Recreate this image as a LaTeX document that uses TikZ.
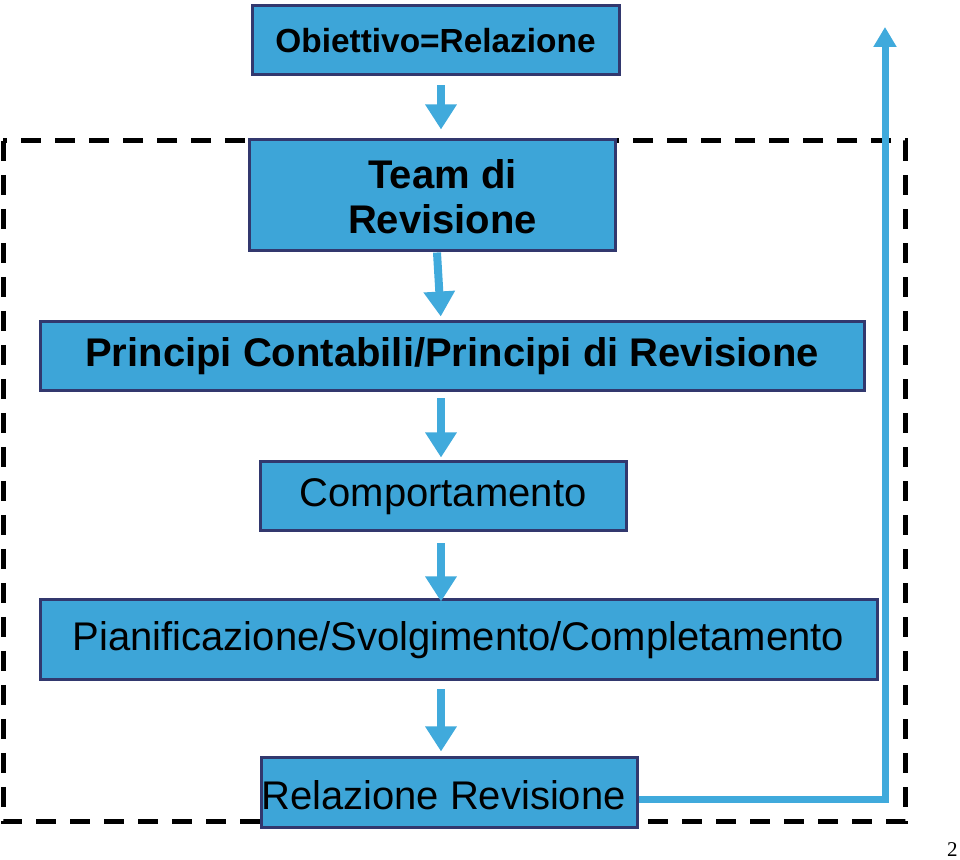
\documentclass[tikz,border=0pt]{standalone}
\usepackage{fontspec}
\setmainfont{Liberation Sans}
\usetikzlibrary{arrows.meta}
\definecolor{boxfill}{RGB}{61,165,216}
\definecolor{boxline}{RGB}{50,56,110}
\definecolor{flowblue}{RGB}{64,170,220}
\tikzset{
  box/.style={draw=boxline, fill=boxfill, line width=1.5pt, inner sep=0pt, align=center,
    font=\fontsize{20}{22.5}\selectfont},
  flow/.style={draw=flowblue, line width=4pt, -{Triangle[width=15pt,length=12.5pt]}}
}
\begin{document}
\begin{tikzpicture}[x=0.5pt, y=-0.5pt]
        \useasboundingbox (0,0) rectangle (960,860);

        \draw[black, line width=2.5pt, dash pattern=on 10pt off 7pt] (3,141) rectangle (905,822);

        \node[box, minimum width=183.5pt, minimum height=34.5pt, font=\fontsize{16.7}{20}\selectfont\bfseries] (obiettivo) at (435.5,40.5) {Obiettivo=Relazione};
        \node[box, minimum width=183pt, minimum height=55.5pt] (team) at (432,195.5) {};
        \node[inner sep=0pt, align=center, font=\fontsize{20}{22.5}\selectfont\bfseries] (teamtesto) at (442.5,197) {Team di\\Revisione};
        \node[box, minimum width=412pt, minimum height=34.5pt, font=\fontsize{20}{22.5}\selectfont\bfseries] (principi) at (452,356.5) {Principi Contabili/Principi di Revisione};
        \node[box, minimum width=183pt, minimum height=34.5pt] (comportamento) at (443,496.5) {Comportamento};
        \node[box, minimum width=418.5pt, minimum height=40pt] (pianificazione) at (458.5,640) {Pianificazione/Svolgimento/Completamento};
        \node[box, minimum width=188pt, minimum height=35pt] (relazione) at (449,793) {};
        \node[inner sep=0pt, font=\fontsize{20}{22.5}\selectfont] (relazionetesto) at (443.5,795) {Relazione Revisione};

        \coordinate (axis) at (441,0);
        \coordinate (ritorno) at (885,27);
        \node[anchor=south east, inner sep=0pt, font=\fontspec{Liberation Serif}\fontsize{10.5}{11}\selectfont] (pagina) at (958,857) {2};

        \path[flow, shorten <=4.5pt, shorten >=4.5pt] (obiettivo.south -| axis) -- (team.north -| axis);
        \path[flow, shorten >=2pt] (team.south -| 437,0) -- (principi.north -| axis);
        \path[flow, shorten <=3pt, shorten >=1.5pt] (principi.south -| axis) -- (comportamento.north -| axis);
        \path[flow, shorten <=5.5pt, shorten >=-1.5pt] (comportamento.south -| axis) -- (pianificazione.north -| axis);
        \path[flow, shorten <=4pt, shorten >=2.5pt] (pianificazione.south -| axis) -- (relazione.north -| axis);
        \path[draw=flowblue, line width=3.5pt, -{Triangle[width=11pt,length=10pt]}] ([yshift=-3.5pt]relazione.east) -| (ritorno);
    \end{tikzpicture}
\end{document}
